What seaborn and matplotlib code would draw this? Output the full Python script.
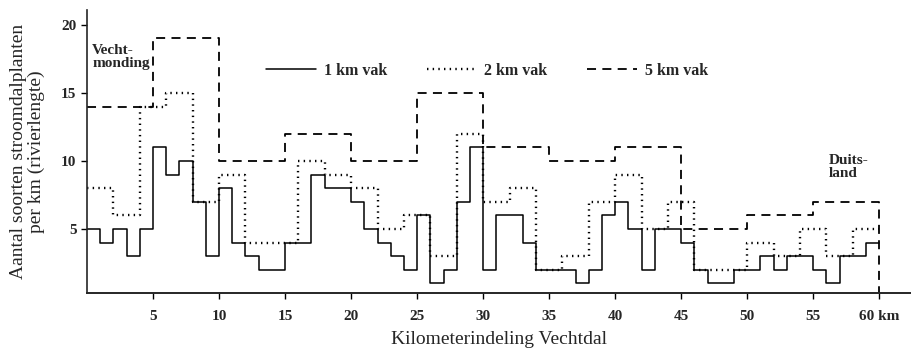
import pandas as pd
import matplotlib.pyplot as plt
import seaborn as sns

km1 = [5, 4, 5, 3, 5, 11, 9, 10, 7, 3, 8, 4, 3, 2, 2, 4, 4, 9, 8, 8,
       7, 5, 4, 3, 2, 6, 1, 2, 7, 11, 2, 6, 6, 4, 2, 2, 2, 1, 2, 6,
       7, 5, 2, 5, 5, 4, 2, 1, 1, 2, 2, 3, 2, 3, 3, 2, 1, 3, 3, 4]
km2 = [8, 6, 14, 15, 7, 9, 4, 4, 10, 9, 8, 5, 6, 3, 12,
       7, 8, 2, 3, 7, 9, 5, 7, 2, 2, 4, 3, 5, 3, 5]
km5 = [14, 19, 10, 12, 10, 15, 11, 10, 11, 5, 6, 7]
xticks = [5, 10, 15, 20, 25, 30, 35, 40, 45, 50, 55, 60]
xticklabels = ["5", "10", "15", "20", "25", "30", "35", "40", "45", "50", "55", "60 km"]


def steps(values, width):
    x = [i * width for i in range(len(values) + 1)]
    y = values + [values[-1]]
    return pd.DataFrame({"km": x, "soorten": y})


df1 = steps(km1, 1)
df2 = steps(km2, 2)
df5 = steps(km5, 5)
# 5 km lijn zakt bij 60 km naar de as
df5 = pd.concat([df5, pd.DataFrame({"km": [60], "soorten": [0.3]})], ignore_index=True)

sns.set_style("ticks")
plt.rcParams["font.family"] = ["Liberation Serif", "DejaVu Serif"]

fig = plt.figure(figsize=(9.11, 3.53), dpi=100)
ax = fig.add_axes([0.0955, 0.17, 0.9045, 0.802])

sns.lineplot(data=df1, x="km", y="soorten", drawstyle="steps-post", color="black",
             lw=1.1, ax=ax, label="1 km vak", sort=False, estimator=None)
sns.lineplot(data=df2, x="km", y="soorten", drawstyle="steps-post", color="black",
             lw=1.7, ls=(0, (0.6, 1.8)), ax=ax, label="2 km vak", sort=False, estimator=None)
sns.lineplot(data=df5, x="km", y="soorten", drawstyle="steps-post", color="black",
             lw=1.3, ls=(0, (5, 3.5)), ax=ax, label="5 km vak", sort=False, estimator=None)

ax.set_xlim(0, 62.4)
ax.set_ylim(0.3, 21.1)
ax.set_xticks(xticks)
ax.set_xticklabels(xticklabels)
ax.set_yticks([5, 10, 15, 20])
ax.tick_params(axis="both", length=4, width=1, labelsize=11, color="black")
ax.tick_params(axis="x", pad=8)
for lab in ax.get_xticklabels() + ax.get_yticklabels():
    lab.set_fontweight("bold")
sns.despine(ax=ax)
ax.spines["left"].set_linewidth(1.2)
ax.spines["bottom"].set_linewidth(1.4)

ax.set_xlabel("Kilometerindeling Vechtdal", fontsize=14, labelpad=6)
ax.set_ylabel("Aantal soorten stroomdalplanten\nper km (rivierlengte)", fontsize=14,
              labelpad=12, linespacing=1.0)

ax.text(0.4, 18.6, "Vecht-\nmonding", fontsize=11, fontweight="bold", va="top",
        linespacing=1.0)
ax.text(56.2, 10.5, "Duits-\nland", fontsize=11, fontweight="bold", va="top",
        linespacing=1.0)

ax.legend(loc="center left", bbox_to_anchor=(0.2, 0.785), ncol=3, frameon=False,
          handlelength=3.1, columnspacing=2.5, handletextpad=0.5,
          prop={"weight": "bold", "size": 11.5})

fig.savefig("out.png", dpi=100)
